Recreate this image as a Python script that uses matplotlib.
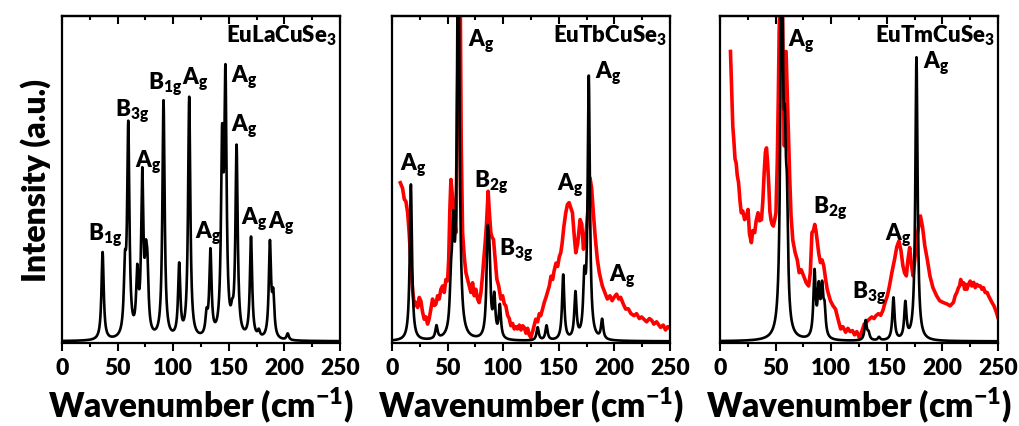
import numpy as np
import matplotlib
matplotlib.use("Agg")
import matplotlib.pyplot as plt

plt.rcParams['font.family'] = ['Lato', 'DejaVu Sans']
plt.rcParams['font.weight'] = 'heavy'
plt.rcParams['mathtext.fontset'] = 'custom'
plt.rcParams['mathtext.rm'] = 'Lato:heavy'
plt.rcParams['mathtext.it'] = 'Lato:heavy'
plt.rcParams['mathtext.bf'] = 'Lato:heavy'

# calculated Raman modes (position cm-1, relative height)
la_pos = [36.5, 56.6, 59.6, 67.7, 72.2, 75.4, 76.8, 91.3, 105.4, 114.4, 130.0, 133.5,
          144.0, 147.0, 153.0, 157.0, 170.0, 177.0, 187.0, 190.0, 203.0]
la_amp = [0.27, 0.18, 0.64, 0.18, 0.48, 0.17, 0.16, 0.73, 0.22, 0.74, 0.06, 0.26,
          0.55, 0.76, 0.04, 0.58, 0.31, 0.02, 0.29, 0.12, 0.02]

tb_pos = [17.0, 40.0, 53.0, 55.0, 59.6, 86.0, 87.6, 92.0, 97.0, 131.0, 139.0,
          154.0, 165.0, 173.0, 177.0, 189.0]
tb_amp = [0.48, 0.04, 0.12, 0.28, 1.4, 0.27, 0.2, 0.12, 0.1, 0.04, 0.045,
          0.2, 0.14, 0.16, 0.8, 0.06]

tm_pos = [55.5, 58.3, 60.2, 85.0, 88.8, 91.8, 94.0, 131.0, 133.6, 143.0,
          156.0, 166.7, 176.7]
tm_amp = [1.4, 0.42, 0.3, 0.2, 0.14, 0.14, 0.08, 0.06, 0.02, 0.01,
          0.13, 0.11, 0.87]

# measured spectra (red)
tb_exp_x = [7.5, 9.5, 11.1, 12.5, 14.1, 15.5, 17.1, 18.5, 20.1, 21.5, 23.1, 24.5, 26.0, 27.5,
            29.0, 30.5, 32.0, 33.5, 35.0, 36.5, 38.0, 39.5, 41.0, 42.5, 44.0, 45.5, 47.0,
            48.5, 50.0, 51.0, 52.0, 53.0, 54.0, 55.1, 56.5, 57.5, 58.5, 59.9, 61.4, 62.3,
            63.5, 65.0, 66.5, 68.0, 69.5, 71.0, 72.5, 74.0, 75.4, 77.0, 78.4, 80.0, 81.4,
            82.5, 83.8, 85.0, 86.5, 87.5, 88.9, 90.0, 91.3, 92.8, 94.3, 96.0, 97.9, 99.5,
            101.0, 102.4, 104.0, 105.5, 106.9, 108.5, 110.0, 111.5, 112.9, 114.5, 116.0,
            117.5, 118.9, 120.5, 122.0, 123.5, 124.9, 126.5, 128.0, 129.3, 131.0, 132.5,
            133.8, 135.5, 137.0, 138.5, 139.8, 141.5, 143.0, 144.5, 145.8, 147.5, 149.0,
            150.5, 151.8, 153.0, 154.5, 156.3, 157.8, 159.3, 160.8, 162.3, 163.8, 165.3,
            167.0, 169.2, 170.7, 172.2, 173.5, 175.1, 176.6, 178.1, 179.6, 181.1, 182.8,
            184.7, 186.5, 189.2, 191.5, 193.7, 196.0, 198.0, 199.7, 202.0, 204.0, 205.7,
            208.0, 210.2, 212.5, 215.0, 217.7, 220.0, 222.5, 224.5, 226.6, 229.0, 231.5,
            233.5, 235.6, 238.0, 240.0, 241.6, 244.0, 246.0, 248.0, 250.0]
tb_exp_y = [0.487, 0.47, 0.436, 0.43, 0.395, 0.33, 0.232, 0.16, 0.109, 0.12, 0.104, 0.135,
            0.124, 0.09, 0.068, 0.075, 0.053, 0.07, 0.10, 0.130, 0.11, 0.114, 0.14, 0.13,
            0.160, 0.17, 0.150, 0.19, 0.186, 0.25, 0.40, 0.497, 0.46, 0.415, 0.36, 0.334,
            0.6, 1.05, 1.05, 0.6, 0.334, 0.26, 0.211, 0.19, 0.17, 0.150, 0.18, 0.14, 0.160,
            0.13, 0.119, 0.15, 0.201, 0.25, 0.303, 0.36, 0.461, 0.40, 0.334, 0.32, 0.313,
            0.25, 0.191, 0.17, 0.130, 0.14, 0.115, 0.109, 0.08, 0.07, 0.048, 0.055, 0.038,
            0.045, 0.038, 0.05, 0.035, 0.048, 0.043, 0.025, 0.04, 0.02, 0.012, 0.03, 0.05,
            0.068, 0.06, 0.085, 0.079, 0.1, 0.12, 0.135, 0.150, 0.17, 0.2, 0.19, 0.216,
            0.24, 0.23, 0.26, 0.272, 0.3, 0.35, 0.395, 0.42, 0.426, 0.41, 0.395, 0.33,
            0.272, 0.3, 0.374, 0.36, 0.283, 0.30, 0.354, 0.42, 0.502, 0.47, 0.395, 0.32,
            0.252, 0.21, 0.170, 0.15, 0.130, 0.14, 0.125, 0.135, 0.145, 0.13, 0.135, 0.115,
            0.099, 0.1, 0.085, 0.079, 0.085, 0.07, 0.075, 0.068, 0.06, 0.07, 0.065, 0.053,
            0.06, 0.05, 0.043, 0.05, 0.035, 0.045, 0.04]

tm_exp_x = [9.4, 10.6, 11.5, 12.4, 13.5, 14.5, 15.5, 16.7, 18.0, 19.1, 20.5, 22.1, 23.5,
            25.2, 26.5, 28.2, 29.5, 31.2, 32.5, 34.2, 35.5, 37.3, 38.5, 39.7, 40.8, 41.8,
            42.8, 43.9, 44.8, 45.8, 46.8, 47.9, 49.0, 50.3, 51.5, 52.4, 53.2, 53.9, 55.0,
            56.1, 57.0, 57.9, 58.7, 59.4, 60.5, 61.5, 62.7, 63.9, 65.5, 67.6, 69.5, 71.2,
            73.0, 75.2, 77.5, 79.7, 81.2, 82.7, 84.0, 85.2, 86.3, 87.3, 88.8, 90.3, 91.8,
            93.3, 95.0, 96.4, 98.0, 99.4, 101.5, 103.9, 106.0, 108.5, 110.5, 113.0, 115.0,
            117.0, 119.1, 121.0, 123.0, 125.2, 127.5, 129.7, 132.0, 134.2, 136.5, 138.5,
            140.3, 142.5, 144.5, 146.4, 148.5, 150.5, 152.4, 154.5, 157.0, 159.0, 160.9,
            162.7, 164.5, 166.0, 167.6, 169.0, 170.6, 172.0, 173.6, 175.2, 176.7, 178.5,
            180.3, 182.2, 184.2, 186.5, 188.8, 191.5, 194.8, 197.5, 200.9, 204.0, 207.0,
            210.0, 211.5, 213.0, 214.5, 215.5, 216.5, 217.6, 219.0, 220.0, 221.0, 222.1,
            223.5, 225.0, 226.5, 228.2, 229.5, 231.0, 232.5, 234.2, 235.5, 237.0, 238.5,
            240.3, 241.5, 243.0, 244.5, 246.4, 248.5, 250.0]
tm_exp_y = [0.89, 0.762, 0.66, 0.619, 0.56, 0.548, 0.51, 0.487, 0.43, 0.395, 0.40, 0.374,
            0.38, 0.405, 0.33, 0.303, 0.34, 0.334, 0.37, 0.395, 0.37, 0.374, 0.43, 0.517,
            0.58, 0.594, 0.55, 0.477, 0.40, 0.374, 0.36, 0.354, 0.37, 0.395, 0.55, 0.742,
            0.95, 1.05, 1.05, 1.05, 0.75, 0.6, 0.75, 0.89, 0.76, 0.64, 0.5, 0.385, 0.31,
            0.272, 0.25, 0.211, 0.22, 0.201, 0.18, 0.170, 0.21, 0.334, 0.34, 0.359, 0.34,
            0.313, 0.27, 0.242, 0.25, 0.232, 0.19, 0.160, 0.14, 0.124, 0.11, 0.099, 0.07,
            0.038, 0.045, 0.028, 0.04, 0.03, 0.033, 0.02, 0.03, 0.012, 0.03, 0.053, 0.06,
            0.068, 0.075, 0.07, 0.079, 0.085, 0.08, 0.094, 0.12, 0.14, 0.170, 0.21, 0.252,
            0.29, 0.308, 0.28, 0.232, 0.21, 0.201, 0.25, 0.288, 0.24, 0.201, 0.25, 0.313,
            0.35, 0.385, 0.35, 0.293, 0.25, 0.201, 0.165, 0.140, 0.125, 0.119, 0.115, 0.109,
            0.12, 0.14, 0.150, 0.165, 0.17, 0.19, 0.175, 0.18, 0.160, 0.175, 0.16,
            0.175, 0.185, 0.17, 0.181, 0.165, 0.175, 0.17, 0.170, 0.16, 0.165, 0.15,
            0.150, 0.14, 0.13, 0.12, 0.109, 0.09, 0.073]

names = ['EuLaCuSe$_3$', 'EuTbCuSe$_3$', 'EuTmCuSe$_3$']

# mode labels: (text, x, y baseline)
la_labels = [('B$_{1g}$', 23.7, 0.312), ('B$_{3g}$', 47.6, 0.695), ('A$_g$', 65.6, 0.537),
             ('B$_{1g}$', 77.5, 0.777), ('A$_g$', 108.0, 0.792), ('A$_g$', 119.5, 0.32),
             ('A$_g$', 152.4, 0.797), ('A$_g$', 152.4, 0.647), ('A$_g$', 161.4, 0.361),
             ('A$_g$', 185.3, 0.35)]
tb_labels = [('A$_g$', 7.5, 0.528), ('A$_g$', 68.0, 0.91), ('B$_{2g}$', 73.4, 0.477),
             ('B$_{3g}$', 96.4, 0.267), ('A$_g$', 148.0, 0.468), ('A$_g$', 183.0, 0.81),
             ('A$_g$', 195.0, 0.186)]
tm_labels = [('A$_g$', 61.5, 0.91), ('B$_{2g}$', 83.3, 0.395), ('B$_{3g}$', 118.5, 0.135),
             ('A$_g$', 148.0, 0.313), ('A$_g$', 182.7, 0.84)]

x = np.linspace(0, 250, 2501)
gamma = 1.2


def spectrum(pos, amp):
    y = np.zeros_like(x)
    for p, a in zip(pos, amp):
        y += a * gamma**2 / ((x - p)**2 + gamma**2)
    return y


fig = plt.figure(figsize=(10.2, 4.27), dpi=100)
lefts = [0.0608, 0.3843, 0.7059]
width = 0.2725
axes = [fig.add_axes([l, 0.1944, width, 0.7666]) for l in lefts]

calc = [(la_pos, la_amp), (tb_pos, tb_amp), (tm_pos, tm_amp)]
exp = [None, (tb_exp_x, tb_exp_y), (tm_exp_x, tm_exp_y)]
labels = [la_labels, tb_labels, tm_labels]

for ax, c, e, lab, name in zip(axes, calc, exp, labels, names):
    ax.plot(x, spectrum(*c), color='black', lw=1.9, zorder=3)
    if e is not None:
        ax.plot(e[0], e[1], color='#ff0000', lw=2.6, zorder=2)
    for t, tx, ty in lab:
        ax.text(tx, ty, t, fontsize=16, fontweight='heavy', ha='left', va='baseline', zorder=4)
    ax.text(247, 0.92, name, fontsize=16, fontweight='heavy', ha='right', va='baseline', zorder=4)
    ax.set_xlim(0, 250)
    ax.set_ylim(-0.005, 1.0)
    ax.set_yticks([])
    ax.set_xticks([0, 50, 100, 150, 200, 250])
    ax.set_xticks([25, 75, 125, 175, 225], minor=True)
    ax.tick_params(axis='x', which='major', direction='out', length=6, width=1.5,
                   labelsize=16.5, pad=4)
    ax.tick_params(axis='x', which='minor', direction='out', length=3, width=1.5)
    top = ax.secondary_xaxis('top')
    top.set_xticks([0, 50, 100, 150, 200, 250])
    top.set_xticks([25, 75, 125, 175, 225], minor=True)
    top.tick_params(axis='x', which='major', direction='in', length=6, width=1.5, labeltop=False)
    top.tick_params(axis='x', which='minor', direction='in', length=3, width=1.5)
    top.spines['top'].set_linewidth(1.6)
    for s in ax.spines.values():
        s.set_linewidth(1.6)
    ax.set_xlabel('Wavenumber (cm$^{-1}$)', fontsize=24, fontweight='heavy', labelpad=5)
    for lbl in ax.get_xticklabels():
        lbl.set_fontweight('heavy')

axes[0].set_ylabel('Intensity (a.u.)', fontsize=23, fontweight='heavy', labelpad=8)

fig.savefig('out.png', dpi=100)
